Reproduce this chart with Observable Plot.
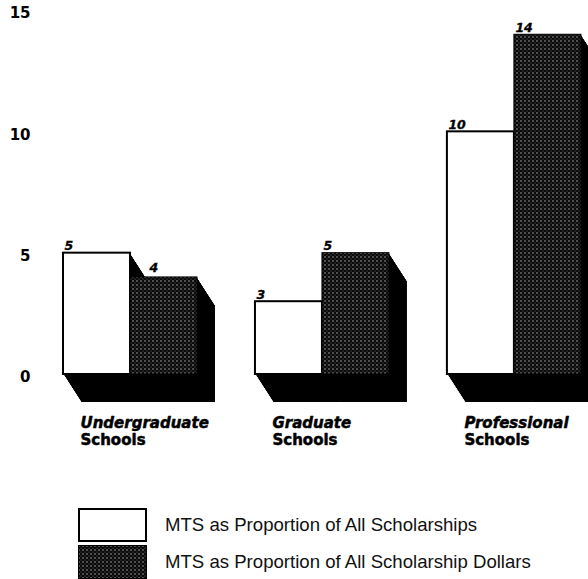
<!DOCTYPE html>
<html>
<head>
<meta charset="utf-8">
<script src="https://cdn.jsdelivr.net/npm/d3@7"></script>
<script src="https://cdn.jsdelivr.net/npm/@observablehq/plot@0.6"></script>
<style>
  html, body { margin: 0; padding: 0; background: white; overflow: hidden; }
  #chart { position: absolute; left: 0; top: 0; }
  .legend-row { position: absolute; left: 78px; display: flex; align-items: center; }
  .legend-row span { font-family: "Liberation Sans", Arial, sans-serif; font-size: 18.6px; color: #111; margin-left: 18px; }
</style>
</head>
<body>
<div id="chart"></div>
<div id="legend"></div>
<script>
// ---- data ----
const groups = ["Undergraduate", "Graduate", "Professional"];
const groupSecondLine = "Schools";
const shareOfScholarships = [5, 3, 10];
const shareOfDollars = [4, 5, 14];
const seriesNames = [
  "MTS as Proportion of All Scholarships",
  "MTS as Proportion of All Scholarship Dollars"
];
const yTicks = [0, 5, 10, 15];

// ---- layout ----
const GROUP_STEP = 2.865;   // in bar-width units
const DEPTH_X = 18, DEPTH_Y = 28;

const rows = groups.flatMap((g, i) => [
  {group: g, gi: i, s: 0, value: shareOfScholarships[i], x1: i * GROUP_STEP, x2: i * GROUP_STEP + 1},
  {group: g, gi: i, s: 1, value: shareOfDollars[i], x1: i * GROUP_STEP + 1, x2: i * GROUP_STEP + 2}
]);
const groupRows = groups.map((g, i) => ({group: g, x1: i * GROUP_STEP}));

const PATTERN = "url(#stipple)";

const shadowMarks = d3.range(1, DEPTH_X + 1).map(k =>
  Plot.rect(rows, {x1: "x1", x2: "x2", y1: 0, y2: "value", fill: "black",
                   dx: k, dy: k * DEPTH_Y / DEPTH_X})
);

const shadowed = rows.filter(d => d.s === 1 && shareOfScholarships[d.gi] > d.value);
const plain = rows.filter(d => !shadowed.includes(d));

const chart = Plot.plot({
  width: 588,
  height: 460,
  marginTop: 10,
  marginBottom: 86,
  marginLeft: 31,
  marginRight: 0,
  style: {fontFamily: "DejaVu Sans, sans-serif", background: "white", color: "black"},
  x: {type: "linear", domain: [0, 8], range: [63, 63 + 8 * 67], axis: null},
  y: {domain: [0, 15], axis: null},
  marks: [
    ...shadowMarks,
    Plot.rect(rows.filter(d => d.s === 0), {x1: "x1", x2: "x2", y1: 0, y2: "value",
      fill: "white", stroke: "black", strokeWidth: 2}),
    Plot.rect(rows.filter(d => d.s === 1), {x1: "x1", x2: "x2", y1: 0, y2: "value",
      fill: PATTERN, stroke: "black", strokeWidth: 1}),
    Plot.axisY(yTicks, {anchor: "left", tickSize: 0, tickPadding: 1, label: null,
      fontSize: 15, fontWeight: "bold", dy: 3, stroke: "black", strokeWidth: 0.3, fill: "black"}),
    Plot.text(plain, {x: "x1", y: "value", text: d => String(d.value), dx: 1, dy: -3,
      textAnchor: "start", lineAnchor: "bottom", fontSize: 12.5, fontWeight: "bold", fontStyle: "italic",
      stroke: "black", strokeWidth: 0.3, fill: "black"}),
    Plot.text(shadowed, {x: "x1", y: "value", text: d => String(d.value), dx: DEPTH_X + 1, dy: -5,
      textAnchor: "start", lineAnchor: "bottom", fontSize: 12.5, fontWeight: "bold", fontStyle: "italic",
      stroke: "black", strokeWidth: 0.3, fill: "black"}),
    Plot.text(groupRows, {x: "x1", y: 0, text: "group", dx: DEPTH_X - 1, dy: 53,
      textAnchor: "start", lineAnchor: "bottom", fontSize: 15, fontWeight: "bold", fontStyle: "italic",
      stroke: "black", strokeWidth: 0.5, fill: "black"}),
    Plot.text(groupRows, {x: "x1", y: 0, text: () => groupSecondLine, dx: DEPTH_X - 1, dy: 70,
      textAnchor: "start", lineAnchor: "bottom", fontSize: 15, fontWeight: "bold",
      stroke: "black", strokeWidth: 0.5, fill: "black"})
  ]
});

// stipple pattern definition
const ns = "http://www.w3.org/2000/svg";
function addPattern(svg) {
  const defs = document.createElementNS(ns, "defs");
  defs.innerHTML = `<pattern id="stipple" patternUnits="userSpaceOnUse" width="4" height="4">
      <rect width="4" height="4" fill="#0a0a0a"/>
      <circle cx="1" cy="1" r="0.7" fill="#c8c8c8"/>
      <circle cx="3" cy="3" r="0.55" fill="#707070"/>
    </pattern>`;
  svg.insertBefore(defs, svg.firstChild);
}
addPattern(chart);
document.getElementById("chart").appendChild(chart);

// legend
const legend = document.getElementById("legend");
const tops = [508, 545];
seriesNames.forEach((name, i) => {
  const row = document.createElement("div");
  row.className = "legend-row";
  row.style.top = tops[i] + "px";
  const sw = i === 0
    ? `<svg width="69" height="34"><rect x="1" y="1" width="67" height="32" fill="white" stroke="black" stroke-width="2"/></svg>`
    : `<svg width="69" height="34"><rect x="0.5" y="0.5" width="68" height="33" fill="url(#stipple)" stroke="black" stroke-width="1"/></svg>`;
  row.innerHTML = sw + `<span>${name}</span>`;
  legend.appendChild(row);
});
</script>
</body>
</html>
